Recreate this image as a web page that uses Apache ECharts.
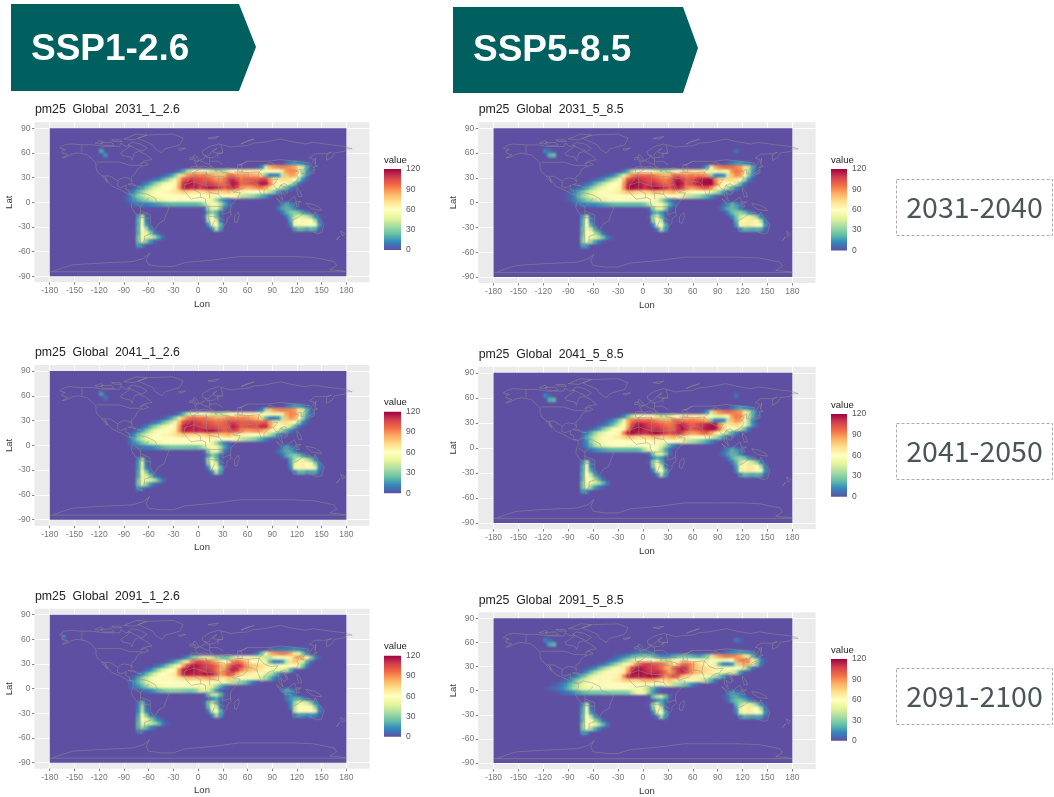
<!DOCTYPE html>
<html><head><meta charset="utf-8"><style>
html,body{margin:0;padding:0;background:#fff}
#c{width:1054px;height:797px}
canvas[data-zr-dom-id="zr_1"]{filter:blur(1.3px)}
</style>
<script src="https://cdn.jsdelivr.net/npm/echarts@6/dist/echarts.min.js"></script></head><body><div id="c"></div><script>
// rows: [lat, first lon, values every 5 degrees]
const pm_2031_126=[[47.5,107.5,6,12,14,12,8,3],
[42.5,72.5,3,12,45,82,88,90,92,90,88,85,70,40,18,5],
[37.5,-27.5,3,8,18,35,50,52,55,58,50,42,38,35,38,48,58,62,65,68,65,68,65,55,62,60,58,60,70,88,92,90,70,38,15,4],
[32.5,-42.5,3,8,15,28,45,75,88,92,95,92,95,88,85,80,78,82,95,95,90,88,90,85,85,82,75,25,10,10,12,40,78,85,85,60,30,10],
[27.5,-57.5,3,7,12,20,30,42,55,78,100,105,110,105,105,100,100,95,90,90,95,108,112,105,95,98,100,100,102,108,108,85,70,68,72,72,68,60,35,12,3],
[22.5,-67.5,4,10,18,28,38,48,55,58,62,85,110,115,116,112,108,105,108,105,100,95,98,110,116,112,98,100,102,105,110,116,116,95,72,62,58,55,45,25,8],
[17.5,-77.5,3,8,15,25,35,45,52,58,60,62,66,88,112,116,112,115,108,112,116,116,112,108,100,108,112,105,90,85,85,88,92,95,85,72,62,50,35,22,12,4],
[12.5,-82.5,5,12,22,32,42,50,56,60,62,63,65,68,72,78,75,72,70,72,74,80,78,75,75,78,82,72,68,65,62,60,60,60,58,50,40,28,14,6],
[7.5,-87.5,3,10,20,30,38,46,52,56,58,60,60,60,60,60,60,60,60,60,60,60,62,62,62,60,60,60,58,50,42,38,35,32,25,20,14,6],
[2.5,-87.5,3,8,14,20,26,32,38,44,48,52,56,58,60,58,58,58,58,58,58,58,58,50,35,20,10,5],
[-2.5,-82.5,4,6,8,10,10,12,14,16,18,20,22,22,22,22,22,22,22,25,35,50,58,55,38,20,8,3],
[-2.5,102.5,10,18,12,5],[-7.5,7.5,6,35,50,52,30,8],[-7.5,97.5,8,18,22,18,10],
[-12.5,12.5,20,30,22,6],[-12.5,102.5,8,20,28,30,25,15,5],
[-17.5,7.5,5,40,55,25,5],[-17.5,107.5,8,22,38,48,45,40,30,12,3],
[-22.5,12.5,35,60,45,8],[-22.5,112.5,18,50,60,65,62,58,35,8],
[-27.5,12.5,12,55,62,22],[-27.5,112.5,12,55,65,65,62,60,55,15],
[-32.5,17.5,12,40,15],[-32.5,117.5,15,25,22,18,22,20,5],
[-17.5,-72.5,15,40,5],[-22.5,-72.5,20,55,8],[-27.5,-72.5,18,55,15],[-32.5,-72.5,22,60,35,10],
[-37.5,-72.5,20,55,50,30,10,3],[-42.5,-72.5,25,55,48,45,35,18,6],[-47.5,-72.5,25,50,28,15,6],[-52.5,-72.5,15,10],
[62.5,-117.5,18],[57.5,-112.5,14]];
const pm_2031_585=[[47.5,102.5,5,10,14,15,12,6],
[42.5,72.5,5,18,55,85,92,95,96,95,92,88,72,42,18,5],
[37.5,-27.5,4,10,22,40,55,58,60,60,52,45,40,38,40,52,62,66,68,70,68,70,66,55,65,58,50,55,65,88,95,92,72,40,15,4],
[32.5,-47.5,2,5,10,18,32,50,80,92,98,100,98,100,95,90,85,82,85,98,100,95,92,95,92,95,92,88,30,10,10,12,42,80,90,88,62,30,10],
[27.5,-62.5,2,5,9,15,24,34,45,58,82,104,110,114,110,108,105,105,100,95,92,98,110,115,110,100,102,108,112,116,118,118,92,72,70,74,74,68,60,35,12,3],
[22.5,-72.5,3,6,12,20,30,40,50,57,60,64,88,112,118,118,115,110,108,112,108,102,98,100,112,118,114,100,104,110,115,118,118,118,98,75,64,58,55,45,25,8],
[17.5,-82.5,3,6,10,18,28,38,47,54,58,60,62,66,90,114,118,115,116,110,114,118,118,114,110,102,110,114,108,92,88,90,95,100,102,90,74,62,50,35,22,12,4],
[12.5,-92.5,2,5,10,18,26,36,46,52,57,60,62,63,65,68,74,80,78,74,72,74,76,82,80,78,78,80,84,75,70,66,62,60,60,60,58,50,40,28,14,6],
[7.5,-92.5,2,5,12,22,32,40,48,54,57,59,60,60,60,60,60,60,60,60,60,60,60,62,62,62,60,60,60,58,50,42,38,35,32,25,20,14,6],
[2.5,-92.5,2,4,10,16,22,28,34,40,46,50,54,57,59,60,58,58,58,58,58,58,58,58,50,35,20,10,5],
[-2.5,-82.5,4,6,8,10,12,12,14,16,18,20,22,22,22,22,22,22,22,25,38,52,58,55,38,20,8,3],
[-2.5,97.5,6,12,22,15,6],[-7.5,7.5,5,30,48,50,28,6],[-7.5,92.5,4,10,20,24,20,12],
[-12.5,12.5,15,22,15,4],[-12.5,102.5,10,22,30,32,26,15,5],
[-17.5,7.5,4,35,52,22,4],[-17.5,107.5,10,25,42,52,50,44,32,12,3],
[-22.5,12.5,30,58,42,6],[-22.5,112.5,20,52,62,68,66,62,38,8],
[-27.5,12.5,10,52,60,20],[-27.5,112.5,14,55,66,68,66,62,56,15],
[-32.5,17.5,10,38,14],[-32.5,117.5,12,22,20,18,20,18,4],
[-17.5,-72.5,15,42,6],[-22.5,-72.5,20,58,10],[-27.5,-72.5,20,60,20,4],[-32.5,-72.5,25,64,45,18,4],
[-37.5,-72.5,22,60,56,40,22,6],[-42.5,-72.5,28,58,50,46,40,25,10,3],[-47.5,-72.5,28,52,32,18,8,3],[-52.5,-72.5,15,12],
[62.5,-117.5,12,6],[57.5,-112.5,20,24],[62.5,112.5,8]];
const pm_2041_126=[[47.5,107.5,6,12,16,14,8,3],
[42.5,72.5,3,10,35,80,88,90,92,92,92,88,72,42,20,6],
[37.5,-27.5,3,9,22,40,52,56,58,60,52,44,42,42,45,52,58,62,65,68,66,68,62,52,58,56,52,55,68,85,92,90,72,40,18,5],
[32.5,-42.5,3,9,18,30,48,80,92,98,98,95,96,90,88,84,85,88,92,92,90,92,92,88,85,80,72,22,10,10,12,38,78,88,85,62,32,10],
[27.5,-57.5,3,7,13,22,32,44,56,80,104,110,112,108,106,102,102,100,96,96,100,106,108,105,100,100,102,100,98,100,102,85,70,66,70,72,66,58,34,12,3],
[22.5,-67.5,4,11,20,30,40,50,56,60,64,88,112,116,114,112,110,106,106,104,102,100,100,106,114,110,100,102,104,104,106,112,112,90,70,60,56,52,42,22,6],
[17.5,-77.5,3,8,16,28,40,50,56,59,61,63,68,90,112,114,112,115,112,114,116,116,112,106,100,104,108,104,92,88,88,90,92,88,78,68,58,46,32,20,10,3],
[12.5,-82.5,5,12,24,36,46,54,58,61,63,64,66,70,74,78,76,74,72,74,76,80,78,76,76,80,84,74,68,65,62,60,60,58,55,46,36,24,12,5],
[7.5,-82.5,8,18,30,40,50,55,58,60,61,61,60,60,60,60,60,60,60,60,60,62,62,62,60,60,60,58,50,42,38,34,30,24,18,12,5],
[2.5,-82.5,6,12,18,26,34,42,48,52,56,58,59,60,60,58,58,58,58,58,58,58,50,35,20,10,4],
[-2.5,-77.5,4,6,8,10,12,14,18,22,24,26,26,26,26,25,25,25,28,40,52,56,52,36,18,6],
[-2.5,102.5,8,18,12,4],[-7.5,7.5,5,32,50,52,30,8],[-7.5,97.5,6,14,20,18,10],
[-12.5,12.5,15,28,20,6],[-12.5,102.5,6,18,25,30,25,15,5],
[-17.5,7.5,4,35,52,25,5],[-17.5,112.5,18,36,50,48,40,28,10],
[-22.5,12.5,28,58,45,8],[-22.5,112.5,15,48,62,66,62,56,32,8],
[-27.5,12.5,10,50,62,22],[-27.5,112.5,10,50,64,66,62,58,50,12],
[-32.5,17.5,12,40,15],[-32.5,117.5,10,22,22,16,18,18,5],
[-17.5,-72.5,12,35,4],[-22.5,-72.5,15,48,6],[-27.5,-72.5,15,45,10],[-32.5,-72.5,18,55,28,8],
[-37.5,-72.5,18,52,46,28,10,3],[-42.5,-72.5,25,52,50,46,38,20,8],[-47.5,-72.5,25,50,28,14,5],[-52.5,-72.5,12,8],
[62.5,-117.5,16],[57.5,-112.5,8]];
const pm_2041_585=[[47.5,107.5,8,14,18,14,10,4],
[42.5,72.5,4,15,45,82,90,94,96,95,92,88,70,42,22,8],
[37.5,-27.5,4,12,25,42,55,60,62,62,55,46,42,40,42,52,60,64,66,68,66,68,64,54,60,52,48,52,64,86,94,92,72,44,20,6],
[32.5,-42.5,4,10,18,32,50,84,94,100,100,98,100,94,90,86,84,86,96,98,94,92,94,92,92,88,82,26,10,10,12,40,80,90,88,64,34,12],
[27.5,-52.5,3,6,12,20,32,46,58,84,106,114,116,112,108,106,104,100,96,94,98,110,114,108,100,102,106,110,114,116,114,90,72,68,72,74,68,60,36,14,4],
[22.5,-62.5,3,8,15,26,38,50,58,62,66,90,114,118,118,114,110,108,110,106,102,98,100,110,116,112,100,104,108,112,116,118,116,96,74,62,58,54,44,24,8],
[17.5,-72.5,4,10,20,32,44,52,58,60,62,66,92,114,118,114,114,110,114,118,118,114,108,102,108,112,106,92,88,88,92,98,98,86,72,60,48,34,20,10,3],
[12.5,-72.5,8,18,30,42,52,58,62,64,66,68,74,80,78,74,72,74,76,82,80,76,76,80,84,74,68,65,62,60,60,60,56,48,38,26,14,5],
[7.5,-72.5,5,14,30,44,52,58,60,61,60,60,60,60,60,60,60,60,60,62,62,62,60,60,60,58,50,42,38,35,30,24,18,12,5],
[2.5,-72.5,5,12,24,36,46,52,56,59,60,60,60,58,58,58,58,58,58,58,58,50,35,20,10,4],
[-2.5,-67.5,4,8,12,15,18,20,22,22,22,22,22,22,22,25,38,52,58,54,36,18,6],
[-2.5,97.5,5,10,20,14,6],[-7.5,7.5,4,28,46,50,28,6],[-7.5,92.5,3,8,16,22,20,12],
[-12.5,12.5,12,20,15,4],[-12.5,102.5,8,20,28,32,26,15,5],
[-17.5,7.5,4,34,52,22,4],[-17.5,107.5,8,22,40,52,50,42,30,10,3],
[-22.5,12.5,28,58,42,6],[-22.5,112.5,16,50,62,68,66,60,36,8],
[-27.5,12.5,10,50,60,20],[-27.5,112.5,12,52,66,68,66,62,55,14],
[-32.5,17.5,10,38,14],[-32.5,117.5,12,22,20,18,20,18,4],
[-17.5,-72.5,12,40,6],[-22.5,-72.5,18,55,10],[-27.5,-72.5,18,55,18,4],[-32.5,-72.5,22,60,40,15,3],
[-37.5,-72.5,20,56,52,35,18,5],[-42.5,-72.5,26,55,48,44,36,22,8],[-47.5,-72.5,25,50,30,16,8,3],[-52.5,-72.5,14,10],
[62.5,-117.5,12,6],[57.5,-112.5,20,22],[62.5,112.5,8]];
const pm_2091_126=[[47.5,87.5,3,6,8,10,10,12,12,10,6,3],
[42.5,67.5,3,8,25,55,80,88,90,92,90,85,70,48,25,8],
[37.5,-17.5,6,14,25,35,42,48,48,42,35,28,25,28,40,55,58,60,58,52,50,48,42,40,52,60,56,56,66,80,85,82,62,32,12,3],
[32.5,-37.5,4,10,18,28,42,70,92,102,105,100,98,90,82,70,60,72,92,98,92,82,70,62,58,55,50,22,10,10,14,38,72,78,72,45,20,5],
[27.5,-52.5,4,9,16,26,38,50,62,85,108,114,116,112,108,106,104,96,86,80,96,108,112,108,92,82,78,76,72,68,64,55,56,60,62,62,58,48,25,8],
[22.5,-62.5,6,12,22,34,46,54,60,64,90,114,118,118,114,110,108,110,106,96,84,90,106,114,110,94,84,80,76,72,68,62,54,50,50,48,40,20,5],
[17.5,-72.5,5,12,22,34,46,54,60,62,64,68,90,112,116,114,114,112,116,116,112,102,88,94,104,100,84,72,68,66,64,62,56,46,38,28,15,5],
[12.5,-82.5,3,8,18,30,42,52,58,60,62,62,62,64,68,74,80,80,78,80,84,86,84,78,70,70,78,72,64,60,58,58,56,52,44,34,22,10,3],
[7.5,-82.5,5,12,22,34,46,54,58,60,60,60,60,60,60,60,60,60,60,62,62,62,60,58,56,54,46,38,34,30,24,16,8,3],
[2.5,-82.5,4,8,14,22,32,42,50,54,56,58,58,58,58,58,58,58,56,56,56,54,48,34,20,10,4],
[-2.5,-72.5,3,5,8,12,16,22,26,28,30,30,30,28,26,26,30,42,50,46,30,15,5],
[-2.5,102.5,8,20,14,4],[-7.5,7.5,3,22,40,42,22,5],[-7.5,107.5,8,12,8],
[-12.5,17.5,12,18,8],[-12.5,107.5,8,15,20,22,14,5],
[-17.5,7.5,4,25,42,22,4],[-17.5,112.5,12,32,48,48,44,30,12],
[-22.5,12.5,22,55,42,8],[-22.5,112.5,10,38,58,62,62,56,30,8],
[-27.5,12.5,8,45,58,20],[-27.5,117.5,38,62,64,62,58,48,12],
[-32.5,17.5,10,35,14],[-32.5,117.5,8,16,14,10,14,12,3],
[-17.5,-72.5,8,25,4],[-22.5,-72.5,10,35,6],[-27.5,-72.5,12,38,10],[-32.5,-72.5,18,55,28,8,3],
[-37.5,-72.5,20,58,50,34,18,8,3],[-42.5,-72.5,22,50,46,42,34,22,10,3],[-47.5,-72.5,20,35,22,12,5],[-52.5,-72.5,8,6],
[62.5,-162.5,6]];
const pm_2091_585=[[47.5,-12.5,3,6,8,8,6,4],[47.5,97.5,4,8,12,14,16,14,10,5],
[42.5,-32.5,3,6,10,15,20,24,28,30,28,22,16,12,12,14,18,22,25,25,22,18,16,20,28,45,80,88,92,94,92,90,85,72,45,22,8],
[37.5,-42.5,2,5,10,18,26,35,44,52,56,60,60,58,50,42,38,40,50,58,62,62,60,58,55,52,48,62,62,54,52,54,60,85,92,92,88,68,35,12,3],
[32.5,-52.5,3,7,14,22,32,42,52,62,72,90,100,108,108,104,102,96,90,82,70,80,95,98,92,82,72,66,60,58,50,22,10,10,14,38,78,85,82,55,28,8],
[27.5,-67.5,3,7,13,22,32,42,50,57,62,66,84,108,114,116,112,108,108,104,96,86,82,100,108,112,108,92,80,76,74,72,68,66,58,56,60,62,60,56,45,22,6],
[22.5,-77.5,3,7,14,24,36,46,54,60,62,62,64,68,90,114,118,118,114,110,110,112,106,96,86,94,108,112,106,92,84,78,74,70,66,62,54,50,50,46,36,16,4],
[17.5,-87.5,3,7,14,24,36,46,54,58,60,62,62,64,68,90,112,116,114,116,114,118,118,114,104,90,96,104,100,82,72,68,66,64,62,56,46,36,26,14,5],
[12.5,-97.5,2,6,12,22,32,42,50,56,60,62,62,62,64,66,70,76,78,76,76,78,82,84,82,76,70,72,78,72,64,60,58,58,56,50,42,32,20,8],
[7.5,-107.5,2,4,8,14,22,32,42,50,56,58,60,61,61,60,60,60,60,60,60,60,60,62,62,62,60,60,58,54,46,38,34,30,24,16,8,3],
[2.5,-117.5,2,3,5,8,12,18,26,36,44,50,54,56,58,58,58,58,58,58,58,58,58,56,56,54,46,34,20,10,4],
[-2.5,-102.5,3,5,7,10,14,18,22,24,26,26,26,28,28,28,28,28,28,30,42,52,56,50,32,16,5],
[-2.5,102.5,6,16,10,4],[-7.5,7.5,3,24,40,45,24,5],[-7.5,97.5,3,8,16,20,14,8],
[-12.5,17.5,14,18,8],[-12.5,102.5,6,18,25,28,22,14,5],
[-17.5,7.5,3,32,50,22,4],[-17.5,112.5,20,36,50,50,42,30,12,3],
[-22.5,12.5,26,56,42,6],[-22.5,112.5,14,48,62,68,64,60,36,8],
[-27.5,12.5,10,48,58,18],[-27.5,112.5,10,50,64,66,64,60,52,14],
[-32.5,17.5,8,34,12],[-32.5,117.5,10,20,18,16,18,16,4],
[-17.5,-72.5,12,40,5],[-22.5,-72.5,18,55,8],[-27.5,-72.5,18,55,15,3],[-32.5,-72.5,22,60,38,14,3],
[-37.5,-72.5,20,58,54,36,20,6],[-42.5,-72.5,28,62,58,50,38,22,8],[-47.5,-72.5,26,54,34,20,10,3],[-52.5,-72.5,14,12],
[62.5,-117.5,12,6],[57.5,-112.5,18,22],[62.5,112.5,10,5]];
// coastlines and borders: lon, lat, lon, lat ...
const coastlines=[
[-168,66,-162,70,-156,71,-141,70,-128,70,-115,68,-108,68,-95,68,-94,72,-88,68,-82,69,-85,66,-94,60,-92,57,-82,55,-80,51,-79,55,-77,60,-78,62,-72,62,-65,59,-62,57,-56,52,-66,50,-70,47,-65,49,-60,46,-66,44,-70,43,-74,40,-76,35,-81,31,-80,25,-83,29,-89,30,-94,29,-97,26,-98,20,-94,18,-91,19,-90,21,-87,21,-88,16,-84,15,-83,10,-78,9,-80,7,-85,10,-92,14,-96,16,-105,20,-109,25,-113,31,-110,24,-115,30,-118,34,-122,37,-124,42,-124,48,-130,54,-135,58,-146,60,-152,59,-160,55,-165,54,-158,58,-165,60,-165,63,-161,64,-168,66],
[-78,9,-72,12,-62,10,-52,5,-50,0,-44,-2,-35,-6,-39,-15,-41,-22,-48,-26,-53,-34,-58,-35,-57,-38,-65,-41,-65,-46,-69,-52,-68,-55,-74,-52,-75,-45,-73,-37,-71,-30,-70,-18,-76,-14,-81,-6,-80,0,-78,3,-78,9],
[-6,36,10,37,11,33,20,31,25,32,32,31,35,24,38,18,43,12,51,12,48,5,40,-3,39,-10,40,-16,35,-20,35,-24,32,-28,27,-34,19,-35,15,-27,12,-17,13,-8,9,-1,9,4,5,6,-4,5,-8,4,-13,9,-17,14,-16,21,-10,29,-6,36],
[-9,37,-9,43,-1,44,-4,48,2,51,8,54,9,57,11,54,20,55,24,59,30,60,22,60,18,61,23,66,18,63,12,56,6,58,5,62,14,68,25,71,40,67,38,65,45,68,60,69,68,72,80,73,100,77,112,74,130,71,140,73,160,70,178,68,187,65,180,65,178,62,165,60,163,55,156,51,156,58,162,61,155,59,142,59,135,54,141,52,135,43,130,42,127,38,128,35,125,35,125,40,121,39,118,38,122,37,120,33,122,30,118,24,110,20,106,19,109,12,105,9,100,13,103,2,98,8,98,16,94,17,91,22,87,21,80,15,80,10,77,8,73,18,72,21,67,25,57,26,56,24,60,22,55,17,44,13,39,21,35,28,35,36,28,37,27,40,36,42,41,41,28,41,23,40,22,37,19,42,14,45,18,40,16,38,8,44,3,43,0,39,-2,37,-6,36,-9,37],
[50,37,54,37,53,41,53,46,48,46,48,42,50,37],
[-73,78,-60,82,-30,83,-18,78,-22,70,-40,65,-44,60,-52,65,-55,70,-73,78],
[-80,73,-70,71,-62,66,-68,62,-75,65,-85,70,-80,73],[-90,77,-75,83,-62,82,-78,76,-90,77],
[-118,72,-105,73,-102,69,-115,69,-118,72],[-125,72,-118,75,-115,73,-120,71,-125,72],[-105,76,-95,76,-92,74,-102,74,-105,76],
[-24,65,-15,66,-14,64,-22,63,-24,65],[-5,50,1,51,-2,56,-5,58,-6,55,-3,53,-5,50],[-10,52,-6,52,-6,55,-10,54,-10,52],
[12,78,25,80,20,77,12,78],[52,71,68,77,58,74,52,71],
[130,32,136,34,141,36,141,41,138,37,132,35,130,32],[140,42,145,44,142,45,140,42],[142,46,143,54,142,50,142,46],
[120,18,122,18,124,13,126,7,122,7,120,14,120,18],[109,1,117,7,119,1,116,-4,110,-3,109,1],[95,5,104,-2,106,-6,101,-3,95,5],[105,-7,114,-8,108,-6,105,-7],
[119,-5,120,1,125,1,121,-1,123,-5,119,-5],[131,-1,141,-3,148,-7,150,-10,143,-9,138,-8,133,-4,131,-1],
[114,-22,122,-18,127,-14,131,-12,136,-12,136,-15,140,-17,142,-11,146,-19,153,-26,150,-37,144,-38,138,-35,131,-32,124,-33,116,-35,115,-32,114,-22],
[173,-35,178,-38,175,-41,173,-35],[172,-41,174,-42,168,-46,172,-41],[49,-12,50,-16,47,-25,44,-24,44,-17,49,-12],
[-85,22,-75,20,-80,23,-85,22],[-74,19,-68,18,-70,20,-74,19],
[-176,-84,-165,-80,-152,-76,-120,-74,-100,-73,-79,-72,-66,-68,-59,-62,-63,-70,-60,-76,-45,-78,-30,-78,-15,-73,-2,-72,20,-70,50,-66,85,-66,115,-66,140,-67,165,-72,168,-77,160,-82,180,-84],
[-180,-84.5,180,-84.5],
[-123,49,-95,49,-83,45,-75,45,-67,45],[-141,70,-141,60],[-117,32,-107,32,-97,26],
[-70,-18,-58,-20,-58,-27,-54,-33],[-71,-30,-70,-52],[-70,-5,-60,5],[-78,0,-70,-5,-70,-18],[-70,-10,-58,-15,-58,-20],
[-17,21,-5,25,10,20,25,20,37,22],[25,32,25,10,30,4,40,4],[10,37,10,20,14,12,14,4],[-5,36,-5,15,3,11,3,6],[14,12,25,10],[12,-5,30,-5,30,-15,40,-11],[12,-17,25,-18,32,-22],[17,-29,20,-22],
[-2,43,3,43],[2,51,8,48,14,46,14,54],[14,50,24,50,30,46],[24,54,24,60],[28,70,30,60],[20,40,28,41],
[36,36,48,30,48,40],[35,30,46,29,51,24,56,24],[44,37,61,36,61,25],[61,36,74,37,71,25,72,21],[74,37,80,30,88,27,97,28,92,22],
[50,45,60,50,85,50,100,52,118,50,135,48,131,43],[87,49,100,42,112,44,118,50],[74,37,80,43,87,49],[100,21,105,23,108,21],[98,16,100,21,105,18,107,11],[60,50,50,45]];
const mapExtent=[-180,-90,180,90];
const lonTicks=[-180,-150,-120,-90,-60,-30,0,30,60,90,120,150,180];
const latTicks=[-90,-60,-30,0,30,60,90];
const legendTicks=[0,30,60,90,120];
const spectral=['#5E4FA2','#3288BD','#66C2A5','#ABDDA4','#E6F598','#FFFFBF','#FEE08B','#FDAE61','#F46D43','#D53E4F','#9E0142'];
const panels=[
{t:'pm25  Global  2031_1_2.6',d:pm_2031_126,l:34.5,w:335,top:122.3,bot:282.3,ty:104,ly:169,lb:250,lx:384,lw:17},
{t:'pm25  Global  2031_5_8.5',d:pm_2031_585,l:478.2,w:337.4,top:122.3,bot:283,ty:104,ly:169,lb:250.5,lx:831,lw:16},
{t:'pm25  Global  2041_1_2.6',d:pm_2041_126,l:34.5,w:335,top:365,bot:525.7,ty:347,ly:411.7,lb:493.3,lx:384,lw:17},
{t:'pm25  Global  2041_5_8.5',d:pm_2041_585,l:478.2,w:337.4,top:366.7,bot:529,ty:348.5,ly:414,lb:496.7,lx:831,lw:16},
{t:'pm25  Global  2091_1_2.6',d:pm_2091_126,l:34.5,w:335,top:608.7,bot:768.7,ty:590.5,ly:655.7,lb:736.7,lx:384,lw:17},
{t:'pm25  Global  2091_5_8.5',d:pm_2091_585,l:478.2,w:337.4,top:612.3,bot:773.3,ty:594.5,ly:659,lb:740.7,lx:831,lw:16}];
const FONT='"Liberation Sans",Arial,sans-serif';
const grid=[],xAxis=[],yAxis=[],series=[],title=[],cellSeries=[],graphic=[];
const coastData=[];coastlines.forEach(a=>{for(let i=0;i<a.length;i+=2)coastData.push([a[i],a[i+1]]);coastData.push(['-','-']);});
panels.forEach((p,i)=>{
 const g=grid.length;
 grid.push({left:p.l,top:p.top,width:p.w,height:p.bot-p.top,show:true,backgroundColor:'#EBEBEB',borderWidth:0});
 const lab={fontFamily:FONT,fontSize:8.5,color:'#757575'};
 xAxis.push({type:'value',gridIndex:g,min:-198.5,max:208,name:'Lon',nameLocation:'middle',nameGap:17,nameTextStyle:{fontFamily:FONT,fontSize:9.5,color:'#333'},
  axisLine:{show:false,onZero:false},axisTick:{show:true,length:2.5,lineStyle:{color:'#666',width:.8},customValues:lonTicks},axisLabel:{...lab,margin:4,customValues:lonTicks,showMinLabel:true,showMaxLabel:true},
  splitLine:{show:true,lineStyle:{color:'#fff',width:1}}});
 yAxis.push({type:'value',gridIndex:g,min:-97.3,max:97.3,name:'Lat',nameLocation:'middle',nameGap:19,nameTextStyle:{fontFamily:FONT,fontSize:9.5,color:'#333'},
  axisLine:{show:false,onZero:false},axisTick:{show:true,length:2.5,lineStyle:{color:'#666',width:.8},customValues:latTicks},axisLabel:{...lab,margin:4,customValues:latTicks,showMinLabel:true,showMaxLabel:true},
  splitLine:{show:true,lineStyle:{color:'#fff',width:1}}});
 title.push({text:p.t,left:p.l+.5,top:p.ty,padding:0,textStyle:{fontFamily:FONT,fontSize:12.3,fontWeight:'normal',color:'#222'}});
 series.push({type:'custom',coordinateSystem:'cartesian2d',xAxisIndex:g,yAxisIndex:g,silent:true,clip:false,data:[mapExtent],
  renderItem:(ctx,api)=>{const a=api.coord([api.value(0),api.value(3)]),b=api.coord([api.value(2),api.value(1)]);
   return {type:'rect',shape:{x:a[0],y:a[1],width:b[0]-a[0],height:b[1]-a[1]},style:{fill:spectral[0]}};}});
 const cells=[];p.d.forEach(r=>{for(let k=2;k<r.length;k++)cells.push([r[1]+5*(k-2),r[0],r[k]]);});
 cellSeries.push(series.length);
 series.push({type:'custom',zlevel:1,coordinateSystem:'cartesian2d',xAxisIndex:g,yAxisIndex:g,silent:true,clip:false,data:cells,encode:{x:0,y:1},
  renderItem:(ctx,api)=>{const c=api.coord([api.value(0),api.value(1)]),s=api.size([5,5]);
   return {type:'rect',shape:{x:c[0]-s[0]/2-.25,y:c[1]-s[1]/2-.25,width:s[0]+.5,height:s[1]+.5},style:{fill:api.visual('color')}};}});
 series.push({type:'line',zlevel:2,xAxisIndex:g,yAxisIndex:g,silent:true,showSymbol:false,clip:false,connectNulls:false,data:coastData,lineStyle:{width:.6,color:'rgba(150,145,140,.8)'}});
 // legend
 const h=grid.length;
 grid.push({left:p.lx,top:p.ly,width:p.lw,height:p.lb-p.ly,show:false});
 xAxis.push({type:'value',gridIndex:h,min:0,max:1,show:false});
 yAxis.push({type:'value',gridIndex:h,min:0,max:120,interval:30,position:'right',axisLine:{show:false},axisTick:{show:false},splitLine:{show:false},
  axisLabel:{fontFamily:FONT,fontSize:8.5,color:'#555',margin:5,showMinLabel:true,showMaxLabel:true}});
 graphic.push({type:'text',x:p.lx,y:p.ly-9,style:{text:'value',fill:'#222',font:'9.5px "Liberation Sans"',textVerticalAlign:'middle'}});
 series.push({type:'custom',coordinateSystem:'cartesian2d',xAxisIndex:h,yAxisIndex:h,silent:true,data:[[0,legendTicks[0],1,legendTicks[4]]],
  renderItem:(ctx,api)=>{const a=api.coord([api.value(0),api.value(3)]),b=api.coord([api.value(2),api.value(1)]);
   return {type:'rect',shape:{x:a[0],y:a[1],width:b[0]-a[0],height:b[1]-a[1]},
    style:{fill:{type:'linear',x:0,y:1,x2:0,y2:0,colorStops:spectral.map((c,n)=>({offset:n/10,color:c}))}}};}});
});
const headers=[{text:'SSP1-2.6',pts:[[11,4],[239,4],[256,47],[239,91],[11,91]],tx:31,ty:50},{text:'SSP5-8.5',pts:[[453,7],[683,7],[698,48],[683,93],[453,93]],tx:473,ty:51}];
headers.forEach(h=>{graphic.push({type:'polygon',shape:{points:h.pts},style:{fill:'#00605F'}});
 graphic.push({type:'text',x:h.tx,y:h.ty,style:{text:h.text,fill:'#fff',font:'bold 37px "Liberation Sans"',textVerticalAlign:'middle'}});});
const boxes=[{text:'2031-2040',y:179},{text:'2041-2050',y:423},{text:'2091-2100',y:668}];
boxes.forEach(b=>{graphic.push({type:'rect',shape:{x:896.5,y:b.y+.5,width:156,height:56},style:{fill:'#fff',stroke:'#aaa',lineWidth:1,lineDash:[3,2]}});
 graphic.push({type:'text',x:974.5,y:b.y+28,style:{text:b.text,fill:'#4A5557',font:'28.5px "Noto Sans CJK SC"',textAlign:'center',textVerticalAlign:'middle'}});});
const chart=echarts.init(document.getElementById('c'),null,{renderer:'canvas'});
chart.setOption({animation:false,tooltip:{show:false},title,grid,xAxis,yAxis,series,graphic,
 visualMap:{show:false,type:'continuous',min:0,max:120,dimension:2,seriesIndex:cellSeries,inRange:{color:spectral}}});
</script></body></html>
